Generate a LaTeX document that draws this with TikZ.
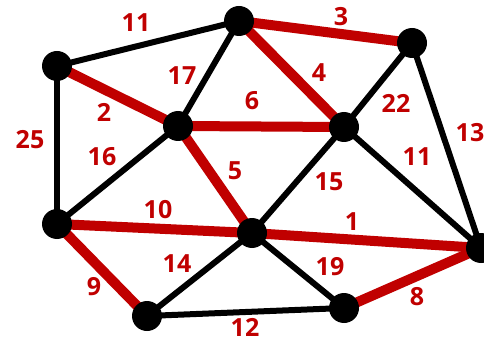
\documentclass[tikz,border=0pt]{standalone}
\usepackage{fontspec}
\setmainfont{Open Sans}
\definecolor{wred}{RGB}{192,0,0}
\tikzset{
  vtx/.style={circle,fill=black,inner sep=0pt,minimum size=30pt},
  blk/.style={draw=black,line width=6pt},
  hl/.style={draw=wred,line width=10pt},
  wt/.style={text=wred,font=\fontsize{25}{25}\selectfont\bfseries,inner sep=0pt}
}
\begin{document}
\begin{tikzpicture}[x=1pt,y=-1pt]
\useasboundingbox (0,0) rectangle (484,339);
\coordinate (A) at (57,66);
\coordinate (B) at (239,21);
\coordinate (C) at (412,43);
\coordinate (D) at (178,126);
\coordinate (E) at (344,127);
\coordinate (F) at (57,224);
\coordinate (G) at (252,233);
\coordinate (H) at (481,248);
\coordinate (I) at (147,316);
\coordinate (J) at (344,308);
% black edges
\path[blk] (A) -- (B);
\path[blk] (B) -- (D);
\path[blk] (C) -- (E);
\path[blk] (C) -- (H);
\path[blk] (A) -- (F);
\path[blk] (D) -- (F);
\path[blk] (E) -- (G);
\path[blk] (E) -- (H);
\path[blk] (G) -- (I);
\path[blk] (G) -- (J);
\path[blk] (I) -- (J);
% red edges
\path[hl] (B) -- (C);
\path[hl] (A) -- (D);
\path[hl] (B) -- (E);
\path[hl] (D) -- (E);
\path[hl] (D) -- (G);
\path[hl] (F) -- (G);
\path[hl] (G) -- (H);
\path[hl] (F) -- (I);
\path[hl] (J) -- (H);
% vertices
\foreach \v in {A,B,C,D,E,F,G,H,I,J} \node[vtx] (n\v) at (\v) {};
% weights
\node[wt] (w11a) at (136,23) {11};
\node[wt] (w17) at (182,76) {17};
\node[wt] (w2) at (104,112) {2};
\node[wt] (w25) at (30,140) {25};
\node[wt] (w16) at (102,157) {16};
\node[wt] (w3) at (341,17) {3};
\node[wt] (w4) at (319,73) {4};
\node[wt] (w6) at (252,101) {6};
\node[wt] (w22) at (396,103) {22};
\node[wt] (w13) at (470,133) {13};
\node[wt] (w11b) at (417,157) {11};
\node[wt] (w10) at (158,210) {10};
\node[wt] (w5) at (235,171) {5};
\node[wt] (w15) at (329,182) {15};
\node[wt] (w1) at (352,222) {1};
\node[wt] (w14) at (177,264) {14};
\node[wt] (w19) at (330,267) {19};
\node[wt] (w9) at (94,287) {9};
\node[wt] (w8) at (417,297) {8};
\node[wt] (w12) at (245,327) {12};
\end{tikzpicture}
\end{document}
